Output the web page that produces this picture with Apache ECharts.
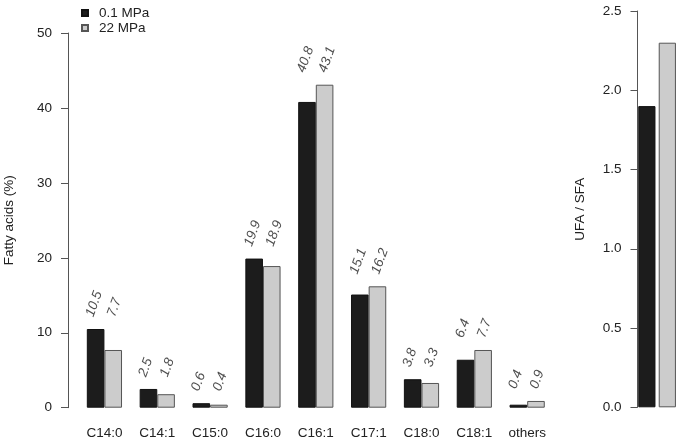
<!DOCTYPE html>
<html><head><meta charset="utf-8">
<script src="https://cdn.jsdelivr.net/npm/echarts@6/dist/echarts.min.js"></script>
<style>html,body{margin:0;padding:0;background:#fff}#c{width:682px;height:443px}</style>
</head><body><div id="c"></div>
<script>
const categories = ['C14:0','C14:1','C15:0','C16:0','C16:1','C17:1','C18:0','C18:1','others'];
const seriesNames = ['0.1 MPa','22 MPa'];
const lowPressure = [10.5, 2.5, 0.6, 19.9, 40.8, 15.1, 3.8, 6.4, 0.4];
const highPressure = [7.7, 1.8, 0.4, 18.9, 43.1, 16.2, 3.3, 7.7, 0.9];
const ratioCategory = ['UFA/SFA'];
const ratioLow = [1.9];
const ratioHigh = [2.3];
const labelLift = 1.7;

const font = 'Liberation Sans, Arial, Helvetica, sans-serif';
const fs = 13.5;
const txt = '#222';
const axisCol = '#555';
const blackFill = '#1c1c1c';
const grayFill = '#cccccc';
const ROT = 70;

const labelPos = categories.map((c, i) => Math.max(lowPressure[i], highPressure[i]) + labelLift);

function labelSeries(name, vals, dx) {
  const r = ROT * Math.PI / 180;
  return {
    type: 'scatter', name: name, xAxisIndex: 0, yAxisIndex: 0, silent: true,
    symbolSize: 1, itemStyle: {color: 'transparent'},
    data: vals.map((v, i) => [i, labelPos[i], v]),
    label: {
      show: true, position: 'inside', rotate: ROT,
      offset: [dx * Math.cos(r), dx * Math.sin(r)],
      formatter: p => p.data[2].toFixed(1),
      fontFamily: font, fontSize: fs, fontStyle: 'italic', color: txt,
      align: 'left', verticalAlign: 'middle'
    },
    z: 5
  };
}

const chart = echarts.init(document.getElementById('c'), null, {renderer: 'canvas'});
chart.setOption({
  animation: false,
  backgroundColor: '#fff',
  textStyle: {fontFamily: font},
  legend: {
    data: seriesNames, orient: 'vertical', left: 76, top: 1,
    icon: 'rect', itemWidth: 6, itemHeight: 6, itemGap: 1,
    textStyle: {fontFamily: font, fontSize: fs, color: txt, padding: [0, 0, 0, 6]},
    selectedMode: false
  },
  grid: [
    {left: 78, top: 33, width: 475.6, height: 374.7, outerBoundsMode: 'none', containLabel: false},
    {left: 637.5, top: 11, width: 39.2, height: 396.3, outerBoundsMode: 'none', containLabel: false}
  ],
  xAxis: [
    {type: 'category', gridIndex: 0, data: categories,
     axisLine: {show: false}, axisTick: {show: false},
     axisLabel: {fontFamily: font, fontSize: fs, color: txt, margin: 19}},
    {type: 'category', gridIndex: 1, data: ratioCategory,
     axisLine: {show: false}, axisTick: {show: false}, axisLabel: {show: false}}
  ],
  yAxis: [
    {type: 'value', gridIndex: 0, min: 0, max: 50, interval: 10, offset: 10,
     name: 'Fatty acids (%)', nameLocation: 'middle', nameGap: 52,
     nameTextStyle: {fontFamily: font, fontSize: fs, color: txt},
     axisLine: {show: true, lineStyle: {color: axisCol, width: 1}},
     axisTick: {show: true, length: 7, lineStyle: {color: axisCol}},
     axisLabel: {fontFamily: font, fontSize: fs, color: txt, margin: 16},
     splitLine: {show: false}},
    {type: 'value', gridIndex: 1, min: 0, max: 2.5, interval: 0.5, offset: 0,
     name: 'UFA / SFA', nameLocation: 'middle', nameGap: 50,
     nameTextStyle: {fontFamily: font, fontSize: fs, color: txt},
     axisLine: {show: true, lineStyle: {color: axisCol, width: 1}},
     axisTick: {show: true, length: 7, lineStyle: {color: axisCol}},
     axisLabel: {fontFamily: font, fontSize: fs, color: txt, margin: 16, formatter: v => v.toFixed(1)},
     splitLine: {show: false}}
  ],
  series: [
    {type: 'bar', name: seriesNames[0], xAxisIndex: 0, yAxisIndex: 0, data: lowPressure,
     barWidth: 17.6, barGap: '0%',
     itemStyle: {color: blackFill, borderColor: '#111', borderWidth: 1}},
    {type: 'bar', name: seriesNames[1], xAxisIndex: 0, yAxisIndex: 0, data: highPressure,
     barWidth: 17.6, barGap: '0%',
     itemStyle: {color: grayFill, borderColor: '#555', borderWidth: 1}},
    {type: 'bar', name: seriesNames[0], xAxisIndex: 1, yAxisIndex: 1, data: ratioLow,
     barWidth: 17.2, barGap: '19%',
     itemStyle: {color: blackFill, borderColor: '#111', borderWidth: 1}},
    {type: 'bar', name: seriesNames[1], xAxisIndex: 1, yAxisIndex: 1, data: ratioHigh,
     barWidth: 17.2, barGap: '19%',
     itemStyle: {color: grayFill, borderColor: '#555', borderWidth: 1}},
    labelSeries('lblLow', lowPressure, -8.8 - 6 + 8.8 * 0),
    labelSeries('lblHigh', highPressure, 8.8 - 2)
  ]
});
</script></body></html>
